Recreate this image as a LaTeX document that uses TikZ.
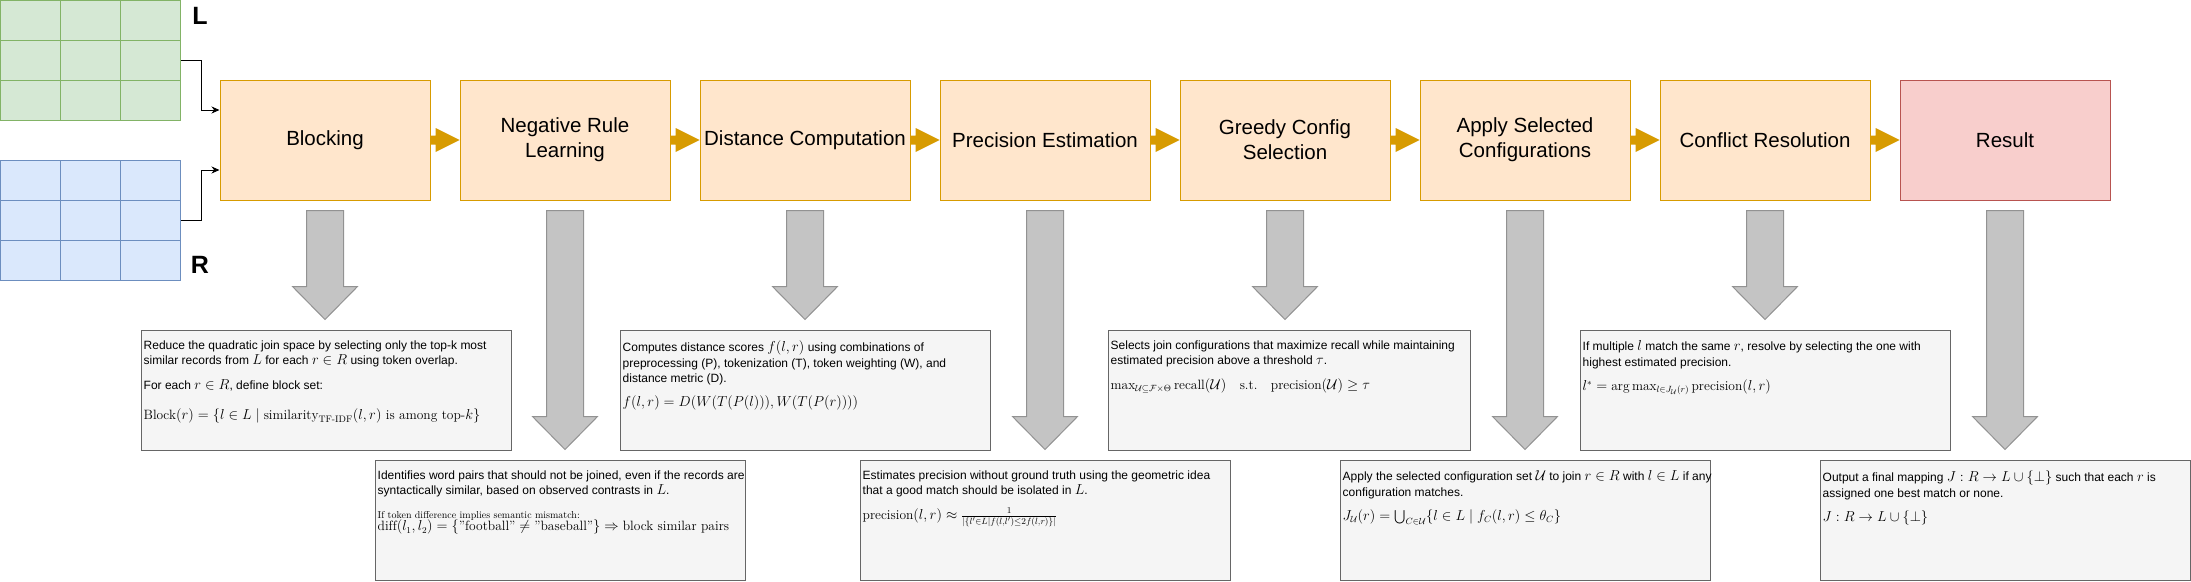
\documentclass[tikz,border=0pt]{standalone}
\usepackage{amsmath,amssymb}
\usepackage{fontspec}
\newfontfamily\arial{Liberation Sans}
\usetikzlibrary{calc,arrows.meta}
\definecolor{orgfill}{HTML}{FFE6CC}
\definecolor{orgdraw}{HTML}{D79B00}
\definecolor{redfill}{HTML}{F8CECC}
\definecolor{reddraw}{HTML}{B85450}
\definecolor{grnfill}{HTML}{D5E8D4}
\definecolor{grndraw}{HTML}{82B366}
\definecolor{blufill}{HTML}{DAE8FC}
\definecolor{bludraw}{HTML}{6C8EBF}
\definecolor{descfill}{HTML}{F5F5F5}
\definecolor{descdraw}{HTML}{666666}
\definecolor{arrfill}{HTML}{C4C4C4}
\definecolor{arrdraw}{HTML}{929292}
\newcommand\rt[1]{\text{\normalfont #1}}
\newcommand\im[1]{{\fontsize{13.5}{15.5}\selectfont$#1$}}
\newcommand\fm[1]{{\fontsize{13.5}{15.5}\selectfont$#1$}}
\newcommand\garrow[2]{\path[draw=arrdraw, fill=arrfill, line width=1pt] let \p1=(#1.south), \p2=(#2.north) in
  (\x1-18.5pt,\y1-10pt) -- (\x1+18.5pt,\y1-10pt) -- (\x1+18.5pt,\y2+43pt) -- (\x1+32.5pt,\y2+43pt)
  -- (\x1,\y2+10pt) -- (\x1-32.5pt,\y2+43pt) -- (\x1-18.5pt,\y2+43pt) -- cycle;}
\newcommand\oarrow[2]{\fill[orgdraw] let \p1=(#1.east), \p2=(#2.west) in
  (\x1+0.5pt,\y1+4.5pt) -- (\x2-24pt,\y1+4.5pt) -- (\x2-24pt,\y1+12pt) -- (\x2,\y1)
  -- (\x2-24pt,\y1-12pt) -- (\x2-24pt,\y1-4.5pt) -- (\x1+0.5pt,\y1-4.5pt) -- cycle;}
\begin{document}
\begin{tikzpicture}[x=1pt,y=-1pt,
  mainbox/.style={draw=orgdraw, fill=orgfill, line width=1pt, minimum width=210pt, minimum height=120pt,
    inner sep=0pt, align=center, font=\arial\fontsize{20.5}{25}\selectfont},
  resbox/.style={mainbox, draw=reddraw, fill=redfill},
  descbox/.style={draw=descdraw, fill=descfill, line width=1pt, minimum width=370pt, minimum height=120pt, inner sep=0pt},
  desctext/.style={anchor=north west, inner sep=0pt, align=left, font=\arial\fontsize{12}{15.5}\selectfont},
  tlabel/.style={font=\arial\bfseries\fontsize{25}{25}\selectfont, inner sep=0pt},
  conn/.style={draw=black, line width=1pt, -{Stealth[length=8pt,width=7pt]}},
  tabbox/.style={line width=1pt, minimum width=180pt, minimum height=120pt, inner sep=0pt}
]
\useasboundingbox (0,0) rectangle (2191,581);

% tables
\node[tabbox, draw=grndraw, fill=grnfill] (tabL) at (90.5,60.5) {};
\node[tabbox, draw=bludraw, fill=blufill] (tabR) at (90.5,220.5) {};
\foreach \xx in {60.5,120.5} {
  \draw[grndraw, line width=1pt] (\xx,0.5) -- (\xx,120.5);
  \draw[bludraw, line width=1pt] (\xx,160.5) -- (\xx,280.5);
}
\foreach \yy in {40.5,80.5} \draw[grndraw, line width=1pt] (0.5,\yy) -- (180.5,\yy);
\foreach \yy in {200.5,240.5} \draw[bludraw, line width=1pt] (0.5,\yy) -- (180.5,\yy);
\node[tlabel] (labL) at (200,16) {L};
\node[tlabel] (labR) at (200,265) {R};

% main boxes
\node[mainbox] (b1) at (325,140) {Blocking};
\node[mainbox] (b2) at (565,140) {Negative Rule\\Learning};
\node[mainbox] (b3) at (805,140) {Distance Computation};
\node[mainbox] (b4) at (1045,140) {Precision Estimation};
\node[mainbox] (b5) at (1285,140) {Greedy Config\\Selection};
\node[mainbox] (b6) at (1525,140) {Apply Selected\\Configurations};
\node[mainbox] (b7) at (1765,140) {Conflict Resolution};
\node[resbox] (b8) at (2005,140) {Result};

\draw[conn] (tabL.east) -- ++(20,0) |- ([yshift=30pt]b1.west);
\draw[conn] (tabR.east) -- ++(20,0) |- ([yshift=-30pt]b1.west);

\oarrow{b1}{b2}\oarrow{b2}{b3}\oarrow{b3}{b4}\oarrow{b4}{b5}
\oarrow{b5}{b6}\oarrow{b6}{b7}\oarrow{b7}{b8}

% description boxes
\node[descbox] (d1) at (326,390) {};
\node[descbox] (d2) at (560,520) {};
\node[descbox] (d3) at (805,390) {};
\node[descbox] (d4) at (1045,520) {};
\node[descbox, minimum width=362pt] (d5) at (1289,390) {};
\node[descbox] (d6) at (1525,520) {};
\node[descbox] (d7) at (1765,390) {};
\node[descbox] (d8) at (2005,520) {};

\garrow{b1}{d1}\garrow{b2}{d2}\garrow{b3}{d3}\garrow{b4}{d4}
\garrow{b5}{d5}\garrow{b6}{d6}\garrow{b7}{d7}\garrow{b8}{d8}

\node[desctext] (t1) at ([xshift=3pt,yshift=-11pt]d1.north west) {%
Reduce the quadratic join space by selecting only the top-k most\\
similar records from \im{L} for each \im{r \in R} using token overlap.\\[9.5pt]
For each \im{r \in R}, define block set:\\[14pt]
\fm{\mathrm{Block}(r) = \{l \in L \mid \mathrm{similarity}_{\rt{TF-IDF}}(l,r) \rt{ is among top-}k\}}};

\node[desctext] (t2) at ([xshift=3pt,yshift=-11pt]d2.north west) {%
Identifies word pairs that should not be joined, even if the records are\\
syntactically similar, based on observed contrasts in \im{L}.\\[8pt]
{\normalfont\fontsize{10}{11}\selectfont If token difference implies semantic mismatch:}\\[-3pt]
\fm{\mathrm{diff}(l_1,l_2) = \{\rt{”football”} \neq \rt{”baseball”}\} \Rightarrow \rt{block similar pairs}}};

\node[desctext] (t3) at ([xshift=3pt,yshift=-11pt]d3.north west) {%
Computes distance scores \im{f(l,r)} using combinations of\\
preprocessing (P), tokenization (T), token weighting (W), and\\
distance metric (D).\\[8.5pt]
\fm{f(l,r) = D(W(T(P(l))),W(T(P(r))))}};

\node[desctext] (t4) at ([xshift=3pt,yshift=-11pt]d4.north west) {%
Estimates precision without ground truth using the geometric idea\\
that a good match should be isolated in \im{L}.\\[9pt]
\fm{\mathrm{precision}(l,r) \approx \frac{1}{|\{l' \in L \mid f(l,l') \le 2f(l,r)\}|}}};

\node[desctext] (t5) at ([xshift=3pt,yshift=-11pt]d5.north west) {%
Selects join configurations that maximize recall while maintaining\\
estimated precision above a threshold \im{\tau}.\\[9pt]
\fm{\max_{\mathcal{U}\subseteq\mathcal{F}\times\Theta}\mathrm{recall}(\mathcal{U}) \quad \rt{s.t.} \quad \mathrm{precision}(\mathcal{U}) \ge \tau}};

\node[desctext] (t6) at ([xshift=3pt,yshift=-11pt]d6.north west) {%
Apply the selected configuration set \im{\mathcal{U}} to join \im{r \in R} with \im{l \in L} if any\\
configuration matches.\\[9pt]
\fm{J_{\mathcal{U}}(r) = \bigcup_{C \in \mathcal{U}}\{l \in L \mid f_C(l,r) \le \theta_C\}}};

\node[desctext] (t7) at ([xshift=3pt,yshift=-11pt]d7.north west) {%
If multiple \im{l} match the same \im{r}, resolve by selecting the one with\\
highest estimated precision.\\[9pt]
\fm{l^* = \arg\max_{l \in J_{\mathcal{U}}(r)} \mathrm{precision}(l,r)}};

\node[desctext] (t8) at ([xshift=3pt,yshift=-11pt]d8.north west) {%
Output a final mapping \im{J : R \to L \cup \{\bot\}} such that each \im{r} is\\
assigned one best match or none.\\[9pt]
\fm{J : R \to L \cup \{\bot\}}};
\end{tikzpicture}
\end{document}
